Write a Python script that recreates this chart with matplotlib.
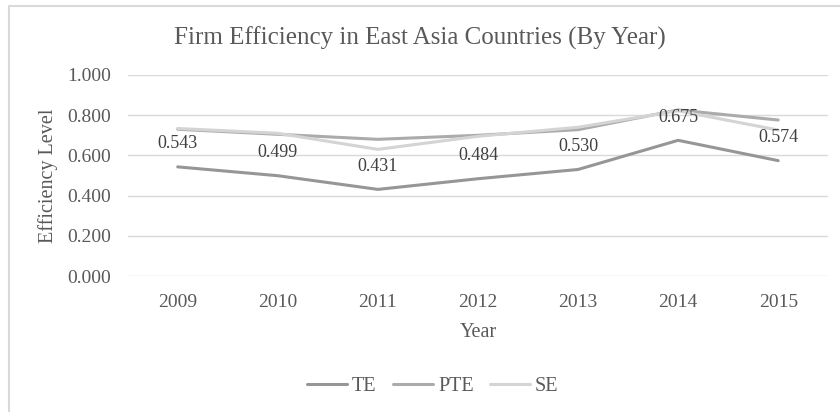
import numpy as np
import matplotlib.pyplot as plt
from matplotlib.lines import Line2D

plt.rcParams['font.family'] = ['Liberation Serif', 'DejaVu Serif']

# Datos
years = ['2009', '2010', '2011', '2012', '2013', '2014', '2015']
te = [0.543, 0.499, 0.431, 0.484, 0.530, 0.675, 0.574]
pte = [0.730, 0.705, 0.680, 0.700, 0.728, 0.826, 0.776]
se = [0.734, 0.710, 0.630, 0.695, 0.740, 0.822, 0.726]

txt = '#595959'
x = np.arange(len(years))

fig = plt.figure(figsize=(8.4, 4.12), dpi=100)
ax = fig.add_axes([0.152, 0.330, 0.834, 0.488])

ax.plot(x, te, color='#969696', lw=2.2, label='TE', solid_capstyle='round')
ax.plot(x, pte, color='#ababab', lw=2.2, label='PTE', solid_capstyle='round')
ax.plot(x, se, color='#d4d4d4', lw=2.2, label='SE', solid_capstyle='round')

# Etiquetas de TE
for xi, v in zip(x, te):
    ax.annotate('{:.3f}'.format(v), (xi, v), xytext=(0, 16.5), textcoords='offset points',
                ha='center', va='center', fontsize=13, color='#404040')

ax.set_xlim(-0.5, 6.5)
ax.set_ylim(0, 1.0)
ax.set_xticks(x)
ax.set_xticklabels(years)
ax.set_yticks(np.arange(0, 1.01, 0.2))
ax.set_yticklabels(['{:.3f}'.format(t) for t in np.arange(0, 1.01, 0.2)])
ax.tick_params(length=0, labelsize=14, colors=txt, pad=12)
ax.tick_params(axis='x', pad=13)
ax.grid(axis='y', color='#d9d9d9', lw=1)
ax.set_axisbelow(True)
for s in ax.spines.values():
    s.set_visible(False)

ax.set_xlabel('Year', fontsize=14.5, color=txt, va='center')
ax.set_ylabel('Efficiency Level', fontsize=14.5, color=txt, va='center')
ax.xaxis.set_label_coords(0.5, -0.279)
ax.yaxis.set_label_coords(-0.113, 0.5)
fig.text(0.5, 0.908, 'Firm Efficiency in East Asia Countries (By Year)', ha='center',
         va='center', fontsize=18, color=txt)

fig.legend(loc='center', bbox_to_anchor=(0.515, 0.061), ncol=3, frameon=False,
           fontsize=14.5, handlelength=2.0, handletextpad=0.25, columnspacing=0.8,
           labelcolor=txt)

# Borde del área del gráfico (solo arriba e izquierda visibles)
bx, by = 9 / 840, 1 - 6 / 412
fig.lines.append(Line2D([bx, bx, 1.0], [0.0, by, by], transform=fig.transFigure,
                        color='#d9d9d9', lw=1.5))

fig.savefig('out.png', dpi=100)
